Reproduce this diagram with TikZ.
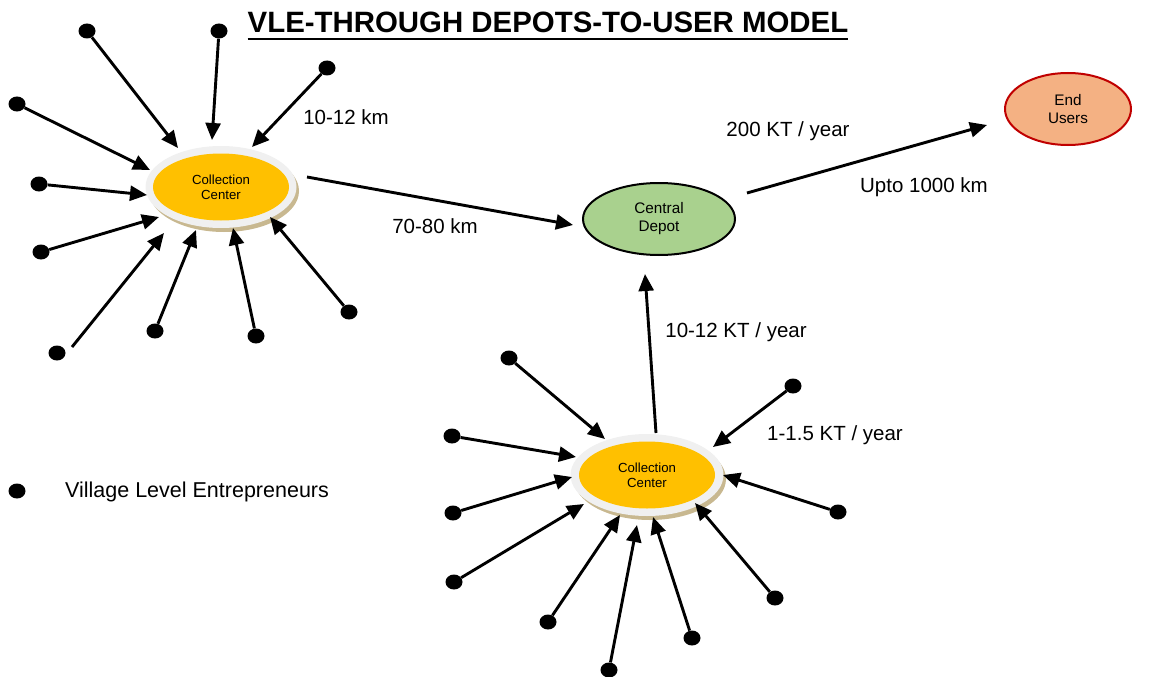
\documentclass[tikz,border=0pt]{standalone}
\usepackage{fontspec}
\setmainfont{Liberation Sans}
\usetikzlibrary{shapes.geometric,arrows.meta}
\definecolor{ccyellow}{HTML}{FFC000}
\definecolor{ccring}{HTML}{F0F0F0}
\definecolor{cctan}{HTML}{C8B890}
\definecolor{depotgreen}{HTML}{A9D18E}
\definecolor{userorange}{HTML}{F4B183}
\definecolor{userred}{HTML}{C00000}
\tikzset{
  vle/.style={ellipse,fill=black,minimum width=17pt,minimum height=15pt,inner sep=0pt},
  arr/.style={line width=2.9pt,-{Triangle[length=17pt,width=15pt]}},
  lbl/.style={font=\fontsize{20.5}{24}\selectfont,inner sep=0pt},
  ccnode/.style={ellipse,fill=ccyellow,minimum width=136pt,minimum height=67pt,inner sep=0pt,align=center,font=\fontsize{13.2}{15}\selectfont},
  bignode/.style={ellipse,line width=2pt,inner sep=0pt,align=center,font=\fontsize{15.3}{18}\selectfont}
}
\begin{document}
\begin{tikzpicture}[x=1pt,y=-1pt]
\useasboundingbox (0,0) rectangle (1152,677);
% title
\node[inner sep=0pt,anchor=base,font=\fontsize{29.4}{33}\bfseries] (title) at (548,33) {VLE-THROUGH DEPOTS-TO-USER MODEL};
\draw[line width=2.7pt] ([yshift=-6pt]title.base west) -- ([yshift=-6pt]title.base east);

% collection center 1
\fill[cctan] (224,191) ellipse (75 and 41);
\fill[ccring] (221,187) ellipse (75.5 and 41);
\node[ccnode] (cc1) at (221,187) {Collection\\Center};
% collection center 2
\fill[cctan] (650,479) ellipse (76 and 41);
\fill[ccring] (647,475) ellipse (76.5 and 41);
\node[ccnode] (cc2) at (647,475) {Collection\\Center};

% central depot, end users
\node[bignode,draw=black,fill=depotgreen,minimum width=152pt,minimum height=72pt] (cd) at (659,219) {Central\\Depot};
\node[bignode,draw=userred,fill=userorange,minimum width=126pt,minimum height=72pt] (eu) at (1068,109) {End\\Users};

% left cluster
\node[vle] (a1) at (87,31) {};
\node[vle] (a2) at (219,31) {};
\node[vle] (a3) at (327,68) {};
\node[vle] (a4) at (17,104) {};
\node[vle] (a5) at (39,184) {};
\node[vle] (a6) at (41,252) {};
\node[vle] (a7) at (57,353) {};
\node[vle] (a8) at (155,331) {};
\node[vle] (a9) at (256,336) {};
\node[vle] (a10) at (349,312) {};
\coordinate (ta1) at (178,148);
\coordinate (ta2) at (212,140);
\coordinate (ta3) at (252,147);
\coordinate (ta4) at (150,170);
\coordinate (ta5) at (147,195);
\coordinate (ta6) at (159,217);
\coordinate (ta7) at (164,233);
\coordinate (ta8) at (196,230);
\coordinate (ta9) at (233,228);
\coordinate (ta10) at (270,217);
\coordinate (sa7) at (72,347);
\foreach \i in {1,2,3,4,5,6,8,9,10} \draw[arr] (a\i) -- (ta\i);
\draw[arr] (sa7) -- (ta7);

% lower cluster
\node[vle] (b1) at (509,358) {};
\node[vle] (b2) at (793,386) {};
\node[vle] (b3) at (452,436) {};
\node[vle] (b4) at (453,513) {};
\node[vle] (b5) at (838,512) {};
\node[vle] (b6) at (454,582) {};
\node[vle] (b7) at (548,622) {};
\node[vle] (b8) at (609,670) {};
\node[vle] (b9) at (692,638) {};
\node[vle] (b10) at (775,598) {};
\coordinate (tb1) at (605,439);
\coordinate (tb2) at (713,447);
\coordinate (tb3) at (576,457);
\coordinate (tb4) at (572,477);
\coordinate (tb5) at (723,475);
\coordinate (tb6) at (584,504);
\coordinate (tb7) at (620,515);
\coordinate (tb8) at (637,525);
\coordinate (tb9) at (653,517);
\coordinate (tb10) at (695,503);
\foreach \i in {1,...,10} \draw[arr] (b\i) -- (tb\i);

% main flows
\coordinate (s1) at (307,177);
\coordinate (e1) at (573,225);
\draw[arr] (s1) -- (e1);
\coordinate (s2) at (747,193);
\coordinate (e2) at (987,125);
\draw[arr] (s2) -- (e2);
\coordinate (s3) at (656,433);
\coordinate (e3) at (645,274);
\draw[arr] (s3) -- (e3);

% labels
\node[lbl] (l1) at (346,117) {10-12 km};
\node[lbl] (l2) at (435,226) {70-80 km};
\node[lbl] (l3) at (788,131) {200 KT / year};
\node[lbl] (l4) at (924,187) {Upto 1000 km};
\node[lbl] (l5) at (736,332) {10-12 KT / year};
\node[lbl] (l6) at (835,435) {1-1.5 KT / year};

% legend
\node[vle] (lg) at (17,491) {};
\node[lbl,anchor=west,font=\fontsize{21.5}{25}\selectfont] (lgt) at (65,492) {Village Level Entrepreneurs};
\end{tikzpicture}
\end{document}
